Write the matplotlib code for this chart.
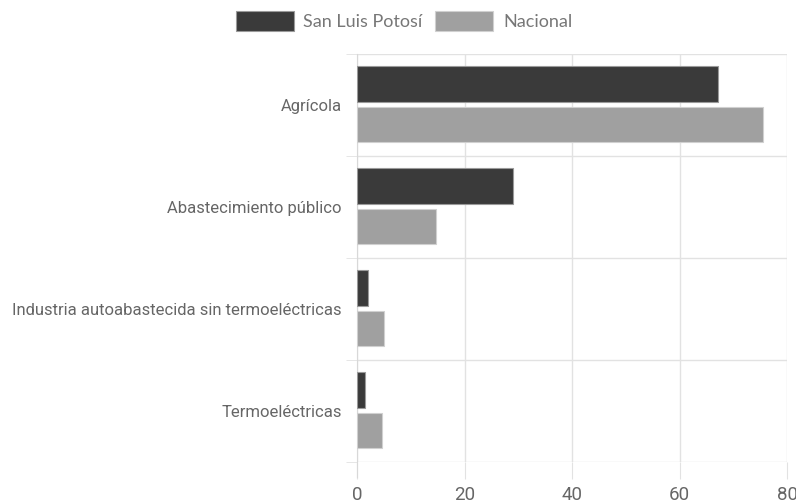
import matplotlib
matplotlib.use("Agg")
import matplotlib.pyplot as plt
import numpy as np

categories = ["Agrícola", "Abastecimiento público",
              "Industria autoabastecida sin termoeléctricas", "Termoeléctricas"]
san_luis = [67.2, 29.1, 2.0, 1.4]
nacional = [75.6, 14.7, 5.0, 4.6]
series_names = ["San Luis Potosí", "Nacional"]
x_ticks = [0, 20, 40, 60, 80]

plt.rcParams['font.family'] = ['Roboto', 'DejaVu Sans']
fig = plt.figure(figsize=(7.96, 5.04), dpi=100)
ax = fig.add_axes([357/796, 1-462/504, (787-357)/796, (462-54)/504])

y = np.arange(len(categories))
h = 0.35
dark = "#3a3a3a"
light = "#a0a0a0"
ax.barh(y - 0.205, san_luis, height=h, color=dark, edgecolor="#9a9a9a", linewidth=0.8,
        label=series_names[0], zorder=3)
ax.barh(y + 0.19, nacional, height=h, color=light, edgecolor="#d0d0d0", linewidth=0.8,
        label=series_names[1], zorder=3)

ax.set_xlim(0, 80)
ax.set_ylim(len(categories) - 0.5, -0.5)
ax.set_xticks(x_ticks)
ax.set_yticks(y)
ax.set_yticklabels(categories)
ax.set_yticks(np.arange(-0.5, len(categories)), minor=True)

for s in ["top", "right", "bottom"]:
    ax.spines[s].set_visible(False)
ax.spines["left"].set_color("#d8d8d8")
ax.spines["left"].set_bounds(len(categories) - 0.5 + 0.15, -0.5)

ax.grid(axis="x", color="#e2e2e2", linewidth=1, zorder=0)
ax.grid(axis="y", which="minor", color="#e2e2e2", linewidth=1, zorder=0)
ax.tick_params(axis="x", length=12, color="#e2e2e2", labelsize=13.5, labelcolor="#666666", pad=5)
ax.tick_params(axis="y", which="major", length=0, labelsize=12, labelcolor="#666666", pad=11)
ax.tick_params(axis="y", which="minor", length=8, color="#e2e2e2")

leg = fig.legend(loc="upper center", bbox_to_anchor=(404/796, 1.01), ncol=2, frameon=False,
                 handlelength=3.2, handleheight=1.3, fontsize=13, labelcolor="#777777",
                 columnspacing=0.7, handletextpad=0.55)
for t in leg.get_texts():
    t.set_fontfamily(['Lato', 'DejaVu Sans'])

fig.savefig("out.png", dpi=100)
